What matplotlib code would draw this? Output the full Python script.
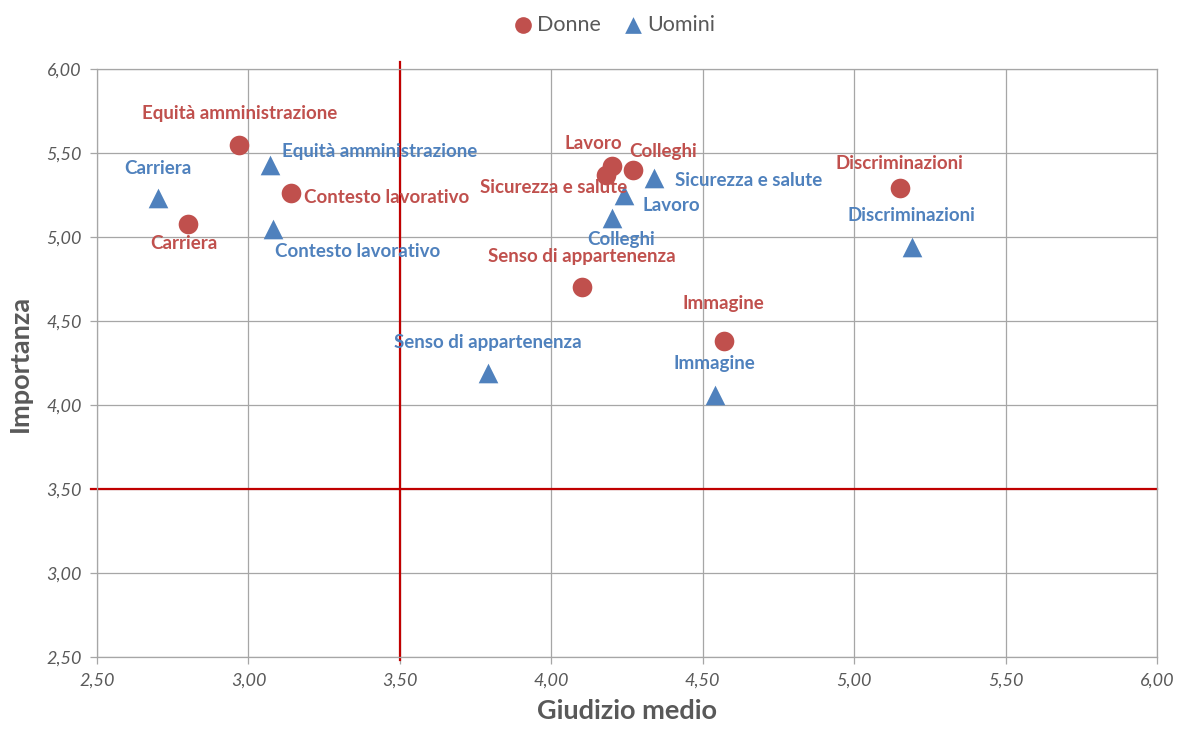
import matplotlib.pyplot as plt
from matplotlib.ticker import FuncFormatter, MultipleLocator

# Aree indagate
aree = ['Equità amministrazione', 'Carriera', 'Contesto lavorativo', 'Lavoro',
        'Sicurezza e salute', 'Colleghi', 'Senso di appartenenza', 'Immagine',
        'Discriminazioni']

# Donne: giudizio medio / importanza
donne_giudizio = [2.97, 2.80, 3.14, 4.20, 4.18, 4.27, 4.10, 4.57, 5.15]
donne_importanza = [5.55, 5.08, 5.26, 5.42, 5.37, 5.40, 4.70, 4.38, 5.29]

# Uomini: giudizio medio / importanza
uomini_giudizio = [3.07, 2.70, 3.08, 4.24, 4.34, 4.20, 3.79, 4.54, 5.19]
uomini_importanza = [5.43, 5.23, 5.05, 5.25, 5.35, 5.11, 4.19, 4.06, 4.94]

SOGLIA = 3.5

RED = '#C0504D'
BLUE = '#4F81BD'
GRAY = '#595959'
FONT = 'Lato'

# label offsets in pixels (dx, dy, ha)
off_donne = [(0, 31, 'center'), (-4, -20, 'center'), (13, -4, 'left'),
             (-19, 23, 'center'), (-52, -13, 'center'), (30, 18, 'center'),
             (0, 31, 'center'), (-1, 38, 'center'), (0, 25, 'center')]
off_uomini = [(12, 13, 'left'), (0, 30, 'center'), (2, -23, 'left'),
              (19, -11, 'left'), (21, -2, 'left'), (9, -21, 'center'),
              (0, 31, 'center'), (0, 31, 'center'), (0, 32, 'center')]

fig = plt.figure(figsize=(11.8, 7.33), dpi=100)
ax = fig.add_axes([0.0822, 0.1037, 0.8983, 0.8022])

ax.set_xlim(2.5, 6.0)
ax.set_ylim(2.5, 6.0)
ax.xaxis.set_major_locator(MultipleLocator(0.5))
ax.yaxis.set_major_locator(MultipleLocator(0.5))
fmt = FuncFormatter(lambda v, p: f'{v:.2f}'.replace('.', ','))
ax.xaxis.set_major_formatter(fmt)
ax.yaxis.set_major_formatter(fmt)

ax.grid(True, color='#A6A6A6', linewidth=0.9)
ax.set_axisbelow(True)
for s in ax.spines.values():
    s.set_color('#A6A6A6')
    s.set_linewidth(0.9)
ax.tick_params(axis='both', colors='#A6A6A6', length=5, width=0.9, pad=6,
               labelcolor=GRAY)
for lab in ax.get_xticklabels() + ax.get_yticklabels():
    lab.set_fontstyle('italic')
    lab.set_fontsize(13)
    lab.set_fontfamily(FONT)

# quadrant lines
ax.axvline(SOGLIA, ymin=-0.005, ymax=1.012, color='#C00000', linewidth=1.6,
           clip_on=False, zorder=2)
ax.axhline(SOGLIA, xmin=-0.006, xmax=1.0, color='#C00000', linewidth=1.6,
           clip_on=False, zorder=2)

ax.scatter(donne_giudizio, donne_importanza, s=200, marker='o', color=RED,
           label='Donne', zorder=3, linewidths=0)
ax.scatter(uomini_giudizio, uomini_importanza, s=200, marker='^', color=BLUE,
           label='Uomini', zorder=3, linewidths=0)

for name, x, y, (dx, dy, ha) in zip(aree, donne_giudizio, donne_importanza, off_donne):
    ax.annotate(name, (x, y), xytext=(dx, dy), textcoords='offset pixels',
                ha=ha, va='center', color=RED, fontsize=13.5, fontweight='bold',
                fontfamily=FONT, zorder=4)
for name, x, y, (dx, dy, ha) in zip(aree, uomini_giudizio, uomini_importanza, off_uomini):
    ax.annotate(name, (x, y), xytext=(dx, dy), textcoords='offset pixels',
                ha=ha, va='center', color=BLUE, fontsize=13.5, fontweight='bold',
                fontfamily=FONT, zorder=4)

ax.set_xlabel('Giudizio medio', fontsize=19.5, fontweight='bold', color=GRAY,
              fontfamily=FONT, labelpad=8)
ax.set_ylabel('Importanza', fontsize=19.5, fontweight='bold', color=GRAY,
              fontfamily=FONT, labelpad=10)

leg = fig.legend(loc='upper center', bbox_to_anchor=(0.521, 1.006), ncol=2,
                 frameon=False, handlelength=0.8, handletextpad=0.25,
                 columnspacing=1.1, prop={'family': FONT, 'size': 15.5},
                 markerscale=0.85)
for t in leg.get_texts():
    t.set_color(GRAY)

fig.savefig('out.png', dpi=100)
